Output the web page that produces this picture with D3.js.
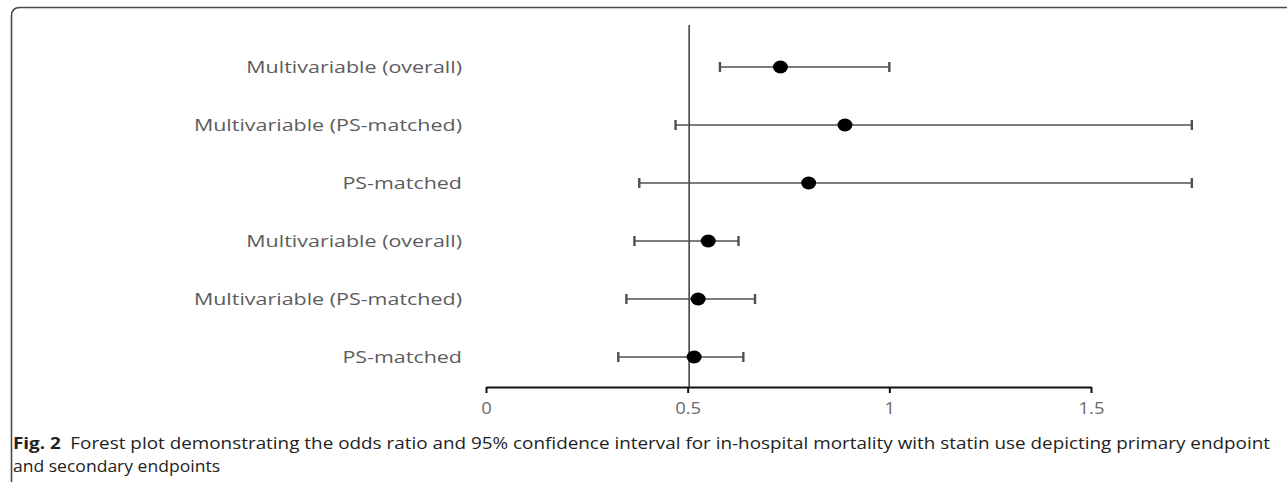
<!DOCTYPE html>
<html><head><meta charset="utf-8">
<script src="https://cdn.jsdelivr.net/npm/d3@7"></script>
<style>
html,body{margin:0;padding:0;background:#fff;}
svg{display:block;}
</style></head>
<body>
<svg id="chart" width="1287" height="482"></svg>
<script>
const labels = ["Multivariable (overall)","Multivariable (PS-matched)","PS-matched","Multivariable (overall)","Multivariable (PS-matched)","PS-matched"];
const estimates = [0.73, 0.89, 0.80, 0.551, 0.526, 0.516];
const lower = [0.58, 0.47, 0.38, 0.368, 0.348, 0.328];
const upper = [1.0, 1.75, 1.75, 0.626, 0.667, 0.638];
const tickValues = [0, 0.5, 1, 1.5];
const tickLabels = ["0","0.5","1","1.5"];
const refValue = 0.5;
const captionBold = "Fig. 2";
const captionLine1 = "Forest plot demonstrating the odds ratio and 95% confidence interval for in-hospital mortality with statin use depicting primary endpoint";
const captionLine2 = "and secondary endpoints";

const svg = d3.select("#chart");
// frame
svg.append("path").attr("d","M11.5 482 V16 Q11.5 7.5 20 7.5 H1287")
  .attr("fill","none").attr("stroke","#4a4a4a").attr("stroke-width",1.6);

const x = d3.scaleLinear().domain([0,1.5]).range([486,1091]);
const y = d3.scalePoint().domain(d3.range(labels.length)).range([67,357]);
const axisY = 387;

// axis
const axis = d3.axisBottom(x).tickValues(tickValues).tickFormat((d,i)=>tickLabels[i]).tickSize(6).tickSizeOuter(0);
const ag = svg.append("g").attr("transform",`translate(0,${axisY})`).call(axis);
ag.select(".domain").attr("stroke","#111").attr("stroke-width",2);
ag.selectAll(".tick line").attr("stroke","#111").attr("stroke-width",2);
ag.selectAll(".tick text").attr("fill","#6a6a6a").attr("font-family","'Open Sans', sans-serif").attr("font-size",16).attr("dy","1.1em")
  .each(function(){ const w=this.getComputedTextLength(); d3.select(this).attr("textLength",w*1.15).attr("lengthAdjust","spacingAndGlyphs"); });

// reference line
svg.append("line").attr("x1",x(refValue)+1.5).attr("x2",x(refValue)+1.5).attr("y1",25).attr("y2",axisY)
  .attr("stroke","#444").attr("stroke-width",1.6);

// labels (horizontally stretched as in the source image)
svg.append("g").selectAll("text").data(labels).join("text")
  .attr("x",462).attr("y",(d,i)=>y(i)).attr("dy","0.35em").attr("text-anchor","end")
  .attr("fill","#5c5c5c").attr("font-family","'Open Sans', sans-serif").attr("font-size",16.5)
  .text(d=>d)
  .each(function(){ const w=this.getComputedTextLength(); d3.select(this).attr("textLength",w*1.3).attr("lengthAdjust","spacingAndGlyphs"); });

// whiskers
const g = svg.append("g");
const rows = labels.map((d,i)=>({i, est:estimates[i], lo:lower[i], hi:upper[i]}));
g.selectAll("line.w").data(rows).join("line").attr("class","w")
  .attr("x1",d=>x(d.lo)).attr("x2",d=>x(d.hi)).attr("y1",d=>y(d.i)).attr("y2",d=>y(d.i))
  .attr("stroke","#505050").attr("stroke-width",1.6);
g.selectAll("line.cl").data(rows).join("line").attr("class","cl")
  .attr("x1",d=>x(d.lo)).attr("x2",d=>x(d.lo)).attr("y1",d=>y(d.i)-5).attr("y2",d=>y(d.i)+5)
  .attr("stroke","#505050").attr("stroke-width",2.4);
g.selectAll("line.ch").data(rows).join("line").attr("class","ch")
  .attr("x1",d=>x(d.hi)).attr("x2",d=>x(d.hi)).attr("y1",d=>y(d.i)-5).attr("y2",d=>y(d.i)+5)
  .attr("stroke","#505050").attr("stroke-width",2.4);
g.selectAll("ellipse").data(rows).join("ellipse")
  .attr("cx",d=>x(d.est)).attr("cy",d=>y(d.i)).attr("rx",7.5).attr("ry",6.5).attr("fill","#000");

// caption
const cap = svg.append("text").attr("x",13).attr("y",449).attr("font-family","'Open Sans', sans-serif").attr("font-size",16.5).attr("fill","#222")
  .attr("textLength",1257).attr("lengthAdjust","spacingAndGlyphs");
cap.append("tspan").attr("font-weight","bold").text(captionBold);
cap.append("tspan").text("\u2002" + captionLine1);
svg.append("text").attr("x",13).attr("y",472).attr("font-family","'Open Sans', sans-serif").attr("font-size",16.5).attr("fill","#222")
  .attr("textLength",207).attr("lengthAdjust","spacingAndGlyphs").text(captionLine2);
</script>
</body></html>
